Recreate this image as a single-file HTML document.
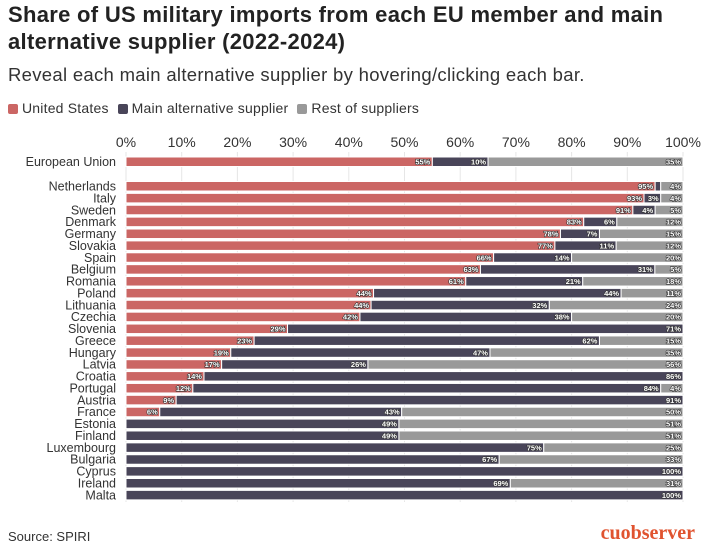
<!DOCTYPE html>
<html><head><meta charset="utf-8"><style>
body{margin:0;background:#fff;font-family:"Liberation Sans",sans-serif;}
#wrap{position:relative;width:701px;height:552px;overflow:hidden;}
h1{position:absolute;left:8px;top:1px;margin:0;font-size:22px;letter-spacing:0.3px;line-height:27px;font-weight:bold;color:#222;width:695px;white-space:nowrap;}
.sub{position:absolute;left:8px;top:64px;font-size:18.5px;letter-spacing:0.3px;color:#333;}
.legend{position:absolute;left:8px;top:100px;font-size:14px;letter-spacing:0.2px;color:#333;display:flex;gap:9px;}
.legend span i{display:inline-block;width:10px;height:10px;border-radius:2px;margin-right:4px;vertical-align:-1px;}
.src{position:absolute;left:8px;top:529px;font-size:13px;color:#333;}
.logo{position:absolute;right:6px;top:522px;font-size:20px;color:#e0532f;font-family:"Liberation Serif",serif;font-weight:bold;}
svg{position:absolute;left:0;top:0;}
</style></head><body><div id="wrap">
<h1>Share of US military imports from each EU member and main<br>alternative supplier (2022-2024)</h1>
<div class="sub">Reveal each main alternative supplier by hovering/clicking each bar.</div>
<div class="legend">
<span><i style="background:#cb6664"></i>United States</span>
<span><i style="background:#494559"></i>Main alternative supplier</span>
<span><i style="background:#999"></i>Rest of suppliers</span>
</div>
<svg id="c" width="701" height="552"></svg>
<div class="src">Source: SPIRI</div>
<div class="logo">cuobserver</div>
</div>
<script>
const categories=["European Union","Netherlands","Italy","Sweden","Denmark","Germany","Slovakia","Spain","Belgium","Romania","Poland","Lithuania","Czechia","Slovenia","Greece","Hungary","Latvia","Croatia","Portugal","Austria","France","Estonia","Finland","Luxembourg","Bulgaria","Cyprus","Ireland","Malta"];
const usValues=[55,95,93,91,83,78,77,66,63,61,44,44,42,29,23,19,17,14,12,9,6,0,0,0,0,0,0,0];
const altValues=[10,1,3,4,6,7,11,14,31,21,44,32,38,71,62,47,26,86,84,91,43,49,49,75,67,100,69,100];
const restValues=[35,4,4,5,12,15,12,20,5,18,11,24,20,0,15,35,56,0,4,0,50,51,51,25,33,0,31,0];
const tickValues=[0,10,20,30,40,50,60,70,80,90,100];
const colors=["#cb6664","#494559","#999999"];
const svg=document.getElementById('c');const NS="http://www.w3.org/2000/svg";
const x0=126,x1=683;
const xs=v=>x0+(x1-x0)*v/100;
const ys=i=>i===0?157:181.5+(i-1)*11.88;
const bh=9.5;
function mk(t,a){const e=document.createElementNS(NS,t);for(const k in a)e.setAttribute(k,a[k]);svg.appendChild(e);return e;}
tickValues.forEach(t=>{
 const l=mk('line',{x1:xs(t),x2:xs(t),y1:152,y2:502,stroke:'#e6e6e6','stroke-width':1});
 
 
 const tx=mk('text',{x:xs(t),y:147,'text-anchor':'middle','font-size':14,fill:'#333'});
 tx.textContent=t+'%';
 
 
});
categories.forEach((c,i)=>{
 const y=ys(i);
 const lb=mk('text',{x:116,y:y+bh-0.5,'text-anchor':'end','font-size':12.5,fill:'#333'});
 lb.textContent=c;
 
 
 const vals=[usValues[i],altValues[i],restValues[i]];
 const tot=vals[0]+vals[1]+vals[2];let acc=0;
 vals.forEach((v,k)=>{
  if(v<=0)return;
  const a=xs(acc*100/tot),b=xs((acc+v)*100/tot);acc+=v;
  const r=mk('rect',{x:a,y:y,width:b-a,height:bh,fill:colors[k],stroke:'#fff','stroke-width':1});
  
  
  if(b-a>12){
   const t=mk('text',{x:b-2,y:y+7.5,'text-anchor':'end','font-size':7.5,'font-weight':'bold',fill:'#fff',stroke:'#333','stroke-width':1.2,'paint-order':'stroke'});
   t.textContent=v+'%';
   
   
  }
 });
});
</script></body></html>
